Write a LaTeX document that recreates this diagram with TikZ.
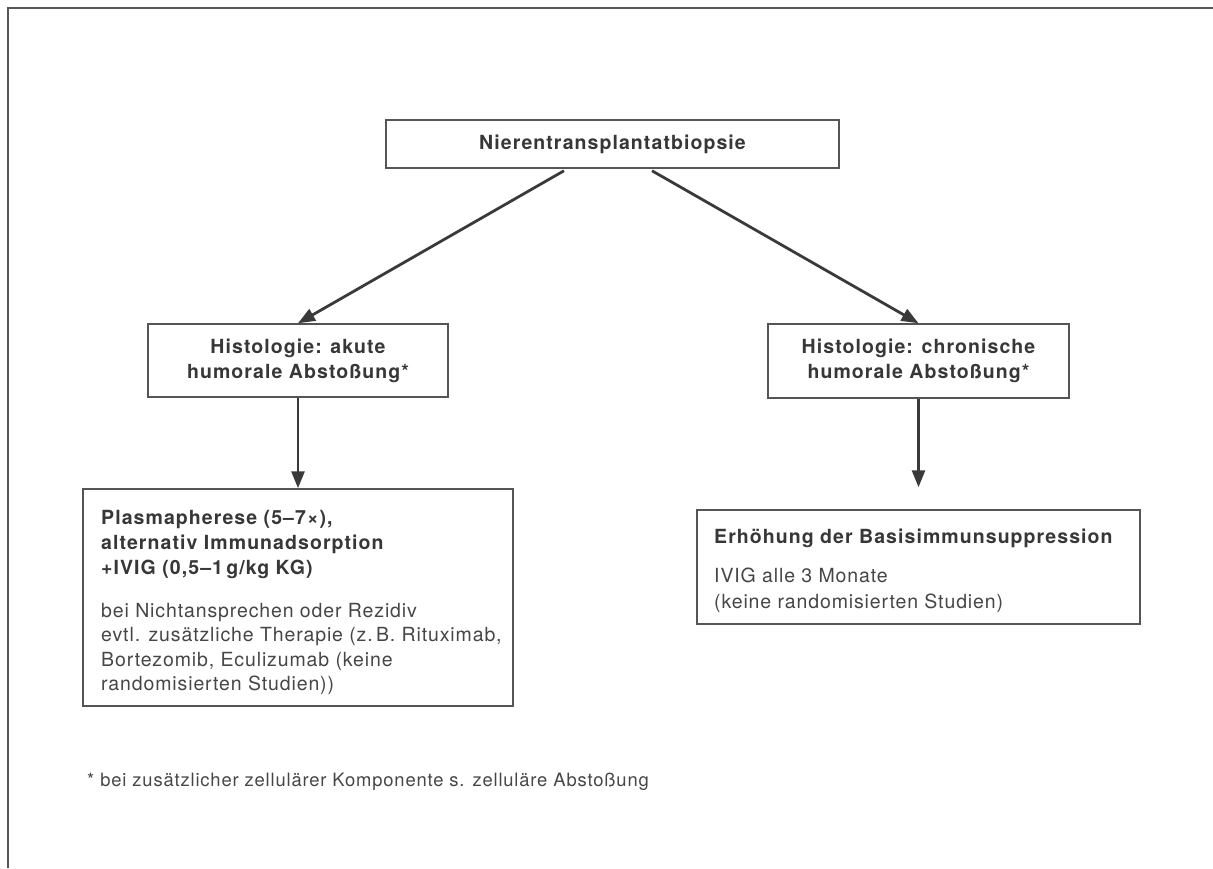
\documentclass[tikz,border=0pt]{standalone}
\usepackage{fontspec}
\setmainfont{TeX Gyre Heros}[LetterSpace=4.5, BoldFeatures={LetterSpace=5.5}]
\usetikzlibrary{arrows.meta}
\definecolor{linegray}{RGB}{85,85,85}
\definecolor{arrowgray}{RGB}{58,58,58}
\definecolor{textgray}{RGB}{55,55,55}
\definecolor{bodygray}{RGB}{70,70,70}
\begin{document}
\begin{tikzpicture}[x=1pt,y=-1pt,
  box/.style={draw=linegray, line width=1.5pt, inner sep=0pt, fill=white},
  headtxt/.style={font=\fontsize{19.5}{25}\selectfont\bfseries, text=textgray},
  bodytxt/.style={font=\fontsize{19.5}{24.5}\selectfont, text=bodygray},
  blocktxt/.style={inner sep=0pt, anchor=north west, align=left},
  conn/.style={draw=arrowgray, line width=2.8pt, -{Triangle[length=17pt,width=13pt]}}
]
\useasboundingbox (0,0) rectangle (1213,868);
\draw[linegray, line width=2pt] (7.5,868) -- (7.5,7.5) -- (1213,7.5);

\node[box, headtxt, minimum width=453pt, minimum height=48pt] (top) at (612.5,144) {Nierentransplantatbiopsie};
\node[box, headtxt, align=center, minimum width=300pt, minimum height=73pt] (lm) at (298,360.5) {Histologie: akute\\humorale Absto\ss ung*};
\node[box, headtxt, align=center, minimum width=301pt, minimum height=74pt] (rm) at (918.5,361) {Histologie: chronische\\humorale Absto\ss ung*};

\node[box, minimum width=430pt, minimum height=217pt] (lb) at (298,597.5) {};
\node[box, minimum width=443pt, minimum height=114pt] (rb) at (918.5,567) {};

\node[blocktxt, headtxt] (lbhead) at (101,510) {\rule{0pt}{14pt}Plasmapherese (5–7×),\\alternativ Immunadsorption\\+IVIG (0,5–1\,g/kg KG)};
\node[blocktxt, bodytxt] (lbbody) at (101,603) {\rule{0pt}{14pt}bei Nichtansprechen oder Rezidiv\\evtl. zusätzliche Therapie (z.\,B. Rituximab,\\Bortezomib, Eculizumab (keine\\randomisierten Studien))};
\node[blocktxt, headtxt] (rbhead) at (714,529) {\rule{0pt}{14pt}Erhöhung der Basisimmunsuppression};
\node[blocktxt, bodytxt, font=\fontsize{19.5}{25.5}\selectfont] (rbbody) at (714,568) {\rule{0pt}{14pt}IVIG alle 3 Monate\\(keine randomisierten Studien)};

\node[blocktxt, bodytxt, font=\fontsize{18.4}{24}\selectfont] (foot) at (87,772) {\rule{0pt}{14pt}* bei zusätzlicher zellulärer Komponente s. zelluläre Absto\ss ung};

\draw[conn] ([xshift=-48.5pt,yshift=-2pt]top.south) -- (lm.north);
\draw[conn] ([xshift=39.5pt,yshift=-2pt]top.south) -- (rm.north);
\draw[conn] (lm.south) -- (lb.north);
\coordinate (rtip) at ([yshift=22pt]rb.north);
\draw[conn] (rm.south) -- (rtip);
\end{tikzpicture}
\end{document}
